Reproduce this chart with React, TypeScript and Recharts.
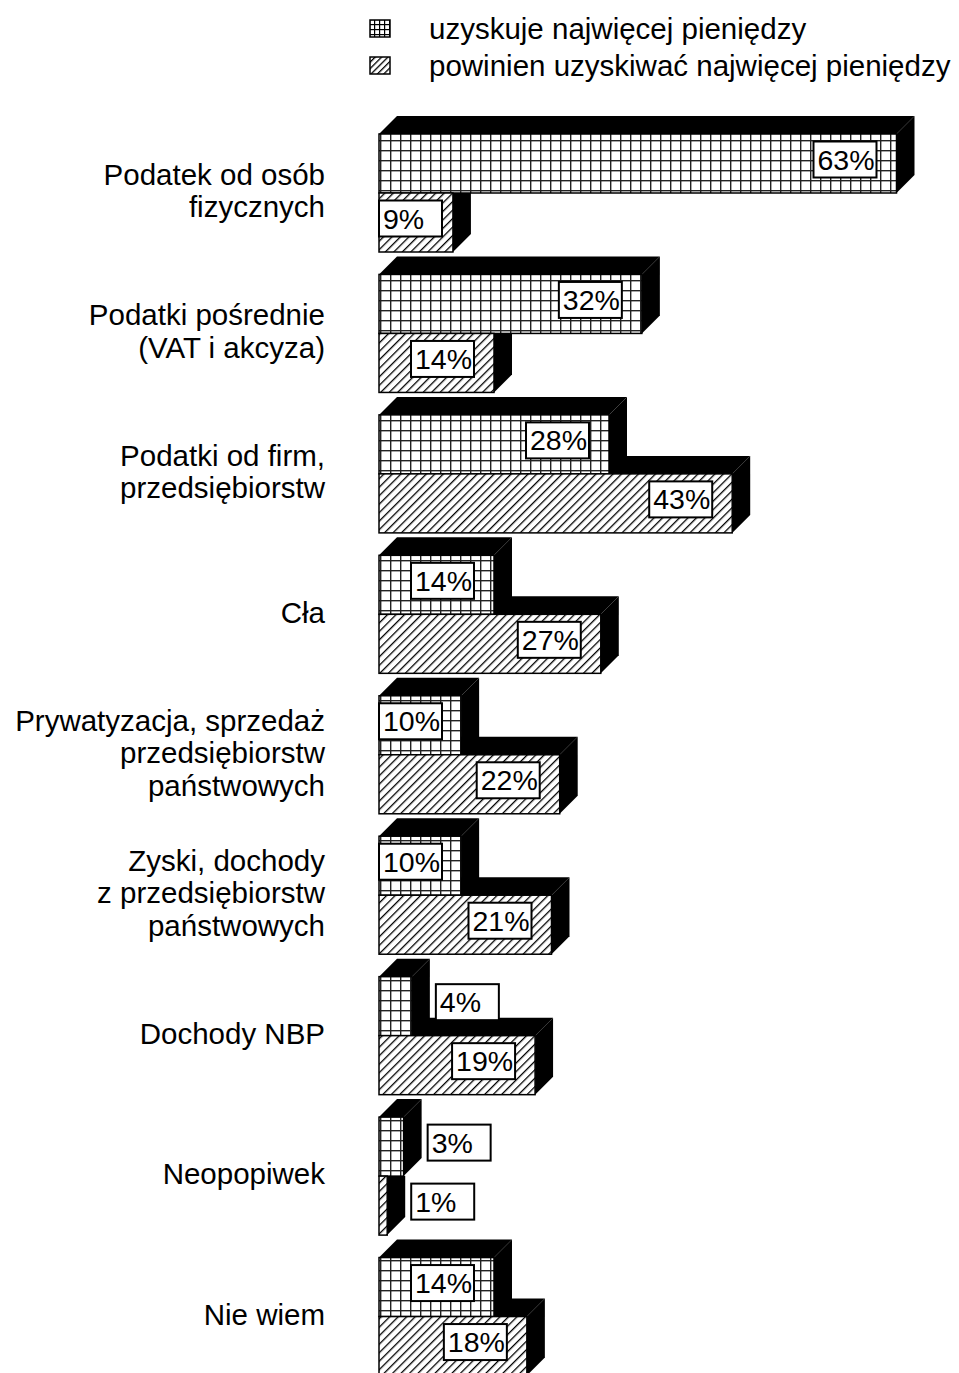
import { BarChart, Bar, XAxis, YAxis, Legend, LabelList } from 'recharts'

const categories = [
  'Podatek od osób\nfizycznych',
  'Podatki pośrednie\n(VAT i akcyza)',
  'Podatki od firm,\nprzedsiębiorstw',
  'Cła',
  'Prywatyzacja, sprzedaż\nprzedsiębiorstw\npaństwowych',
  'Zyski, dochody\nz przedsiębiorstw\npaństwowych',
  'Dochody NBP',
  'Neopopiwek',
  'Nie wiem',
]
const obtained = [63, 32, 28, 14, 10, 10, 4, 3, 14]
const deserved = [9, 14, 43, 27, 22, 21, 19, 1, 18]
const seriesNames = ['uzyskuje najwięcej pieniędzy', 'powinien uzyskiwać najwięcej pieniędzy']

const data = categories.map((name, i) => ({ name, got: obtained[i], should: deserved[i] }))

const FONT = '"Liberation Sans", Arial, sans-serif'
const D = 18 // depth of the 3d extrusion
const LABEL_X = 325

function GotShape(props: any) {
  const { x, y, width: w, height: h } = props
  return (
    <g>
      <polygon points={`${x},${y} ${x + D},${y - D} ${x + w + D},${y - D} ${x + w},${y}`} fill="#000" />
      <polygon points={`${x + w},${y} ${x + w + D},${y - D} ${x + w + D},${y + h - D} ${x + w},${y + h}`} fill="#000" />
      <rect x={x} y={y} width={w} height={h} fill="url(#pGrid)" stroke="#000" strokeWidth={1.5} />
    </g>
  )
}

// the lower bar sits behind the upper one, so only the parts right of / below it show
function ShouldShape(props: any) {
  const { x, y, width: w, height: h, payload } = props
  const gw = payload.should ? (payload.got * w) / payload.should : 0
  const ge = x + gw
  return (
    <g>
      {w > gw ? (
        <>
          <polygon points={`${ge},${y} ${ge},${y - D} ${x + w + D},${y - D} ${x + w},${y}`} fill="#000" />
          <polygon points={`${x + w},${y} ${x + w + D},${y - D} ${x + w + D},${y + h - D} ${x + w},${y + h}`} fill="#000" />
        </>
      ) : (
        <polygon points={`${x + w},${y} ${x + w + D},${y} ${x + w + D},${y + h - D} ${x + w},${y + h}`} fill="#000" />
      )}
      <rect x={x} y={y} width={w} height={h} fill="url(#pHatch)" stroke="#000" strokeWidth={1.5} />
    </g>
  )
}

function ValueBox(props: any) {
  const { x, y, width: w, height: h, value } = props
  const bw = 63
  const bh = 36
  const end = x + w
  const left = value <= 4 ? end + D + 6 : Math.max(end - 20, x + bw) - bw
  const top = y + h / 2 - bh / 2 - 4
  return (
    <g>
      <rect x={left} y={top} width={bw} height={bh} fill="#fff" stroke="#000" strokeWidth={2} />
      <text x={left + 4} y={top + bh / 2 + 10} fontSize={28.5} fontFamily={FONT} fill="#000">
        {value}%
      </text>
    </g>
  )
}

function CategoryTick(props: any) {
  const { y, payload } = props
  const lines = String(payload.value).split('\n')
  return (
    <text textAnchor="end" fontSize={29.5} fontFamily={FONT} fill="#000">
      {lines.map((l, k) => (
        <tspan key={k} x={LABEL_X} y={y + (k - (lines.length - 1) / 2) * 32.5 + 8}>{l}</tspan>
      ))}
    </text>
  )
}

function LegendBox() {
  return (
    <div style={{ fontFamily: FONT, fontSize: 29.5, color: '#000' }}>
      {seriesNames.map((n, i) => (
        <div key={n} style={{ display: 'flex', alignItems: 'center', height: 37 }}>
          <svg width={22} height={19} style={{ display: 'block' }}>
            <rect x={1} y={1} width={20} height={17} fill={i ? 'url(#pHatchS)' : 'url(#pGridS)'} stroke="#000" strokeWidth={1.5} />
          </svg>
          <span style={{ marginLeft: 38, whiteSpace: 'nowrap' }}>{n}</span>
        </div>
      ))}
    </div>
  )
}

export default function App() {
  return (
    <div style={{ position: 'absolute', left: 0, top: 0, width: 959, height: 1373, overflow: 'hidden', background: '#fff' }}>
      <svg width={0} height={0} style={{ position: 'absolute' }}>
        <defs>
          <pattern id="pGrid" width={10} height={10} patternUnits="userSpaceOnUse">
            <rect width={10} height={10} fill="#fff" />
            <rect width={10} height={1.4} fill="#222" />
            <rect width={1.4} height={10} fill="#222" />
          </pattern>
          <pattern id="pHatch" width={6} height={6} patternUnits="userSpaceOnUse" patternTransform="rotate(45)">
            <rect width={6} height={6} fill="#fff" />
            <rect width={1.3} height={6} fill="#000" />
          </pattern>
          <pattern id="pGridS" width={5} height={5} patternUnits="userSpaceOnUse">
            <rect width={5} height={5} fill="#fff" />
            <rect width={5} height={1.2} fill="#000" />
            <rect width={1.2} height={5} fill="#000" />
          </pattern>
          <pattern id="pHatchS" width={4.5} height={4.5} patternUnits="userSpaceOnUse" patternTransform="rotate(45)">
            <rect width={4.5} height={4.5} fill="#fff" />
            <rect width={1.3} height={4.5} fill="#000" />
          </pattern>
        </defs>
      </svg>
      <BarChart
        width={959}
        height={1387}
        data={data}
        layout="vertical"
        margin={{ top: 123, right: 5, bottom: 0, left: 0 }}
        barGap={0}
      >
        <XAxis type="number" domain={[0, 70]} hide />
        <YAxis type="category" dataKey="name" width={379} axisLine={false} tickLine={false} tick={<CategoryTick />} interval={0} />
        <Legend
          layout="horizontal"
          verticalAlign="middle"
          align="center"
          content={<LegendBox />}
          wrapperStyle={{ top: 10, left: 369, width: 'auto', height: 'auto' }}
        />
        <Bar dataKey="got" name={seriesNames[0]} barSize={59} shape={<GotShape />} isAnimationActive={false}>
          <LabelList dataKey="got" content={<ValueBox />} />
        </Bar>
        <Bar dataKey="should" name={seriesNames[1]} barSize={59} shape={<ShouldShape />} isAnimationActive={false}>
          <LabelList dataKey="should" content={<ValueBox />} />
        </Bar>
      </BarChart>
    </div>
  )
}
